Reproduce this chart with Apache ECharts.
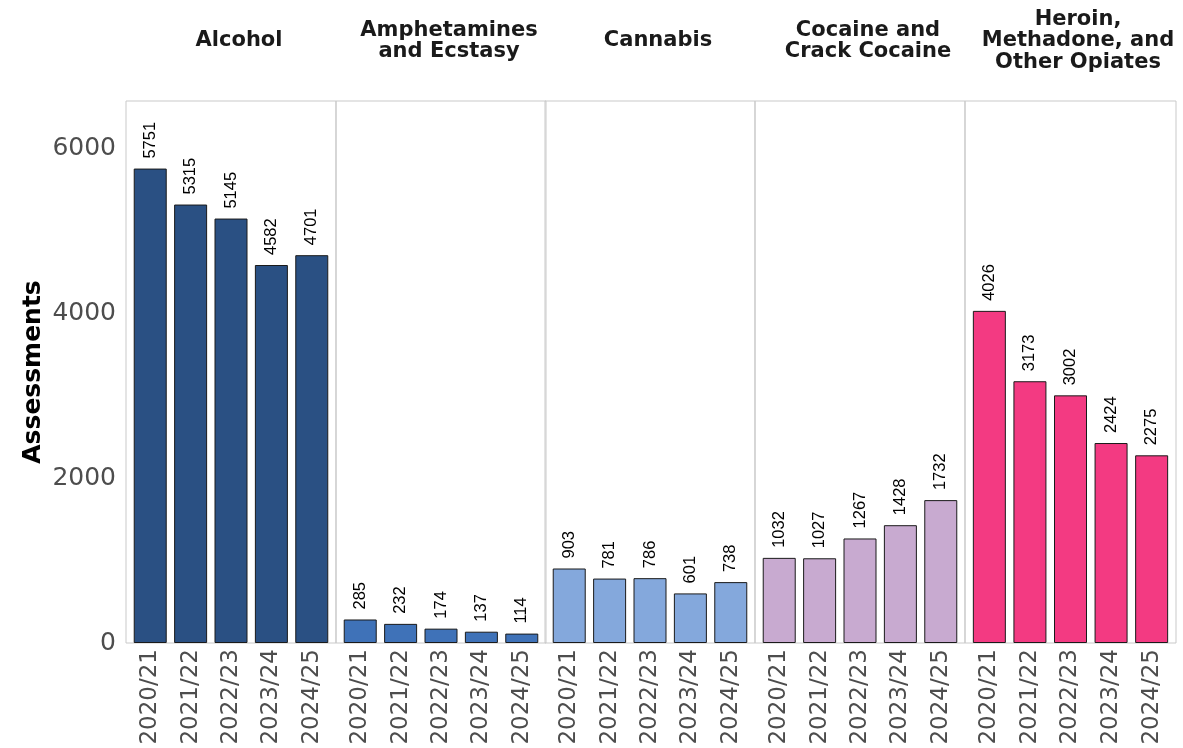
<!DOCTYPE html>
<html>
<head>
<meta charset="utf-8">
<script src="https://cdn.jsdelivr.net/npm/echarts@6/dist/echarts.min.js"></script>
<style>
  html, body { margin: 0; padding: 0; background: #ffffff; }
  #chart { width: 1183px; height: 748px; }
</style>
</head>
<body>
<div id="chart"></div>
<script>
// Substance groups (facet panels)
const substances = ['Alcohol', 'Amphetamines\nand Ecstasy', 'Cannabis', 'Cocaine and\nCrack Cocaine', 'Heroin,\nMethadone, and\nOther Opiates'];
const years = ['2020/21', '2021/22', '2022/23', '2023/24', '2024/25'];

// Assessments per year, one array per substance
const alcohol = [5751, 5315, 5145, 4582, 4701];
const amphetamines = [285, 232, 174, 137, 114];
const cannabis = [903, 781, 786, 601, 738];
const cocaine = [1032, 1027, 1267, 1428, 1732];
const opiates = [4026, 3173, 3002, 2424, 2275];

const seriesValues = [alcohol, amphetamines, cannabis, cocaine, opiates];
const colors = ['#2a5083', '#3f72b8', '#84a8dc', '#c8aad0', '#f33a82'];
const yTicks = [0, 2000, 4000, 6000];

const chart = echarts.init(document.getElementById('chart'));

const panelLefts = [126, 336, 545, 755, 965];
const panelWidth = 210;
const yMax = 6570;

const grids = [], xAxes = [], yAxes = [], series = [], graphics = [];

substances.forEach((name, i) => {
  grids.push({
    left: panelLefts[i],
    width: i === 4 ? 211 : panelWidth,
    top: 101,
    bottom: 105,
    show: true,
    borderColor: '#c9c9c9',
    borderWidth: 1,
    backgroundColor: 'transparent'
  });
  xAxes.push({
    type: 'value',
    gridIndex: i,
    min: 0.4,
    max: 5.6,
    axisLine: { show: false },
    axisTick: { show: false },
    splitLine: { show: false },
    axisLabel: {
      customValues: [1, 2, 3, 4, 5],
      formatter: v => years[Math.round(v) - 1],
      rotate: 90,
      margin: 6,
      fontSize: 23,
      color: '#4d4d4d',
      fontFamily: 'DejaVu Sans'
    }
  });
  yAxes.push({
    type: 'value',
    gridIndex: i,
    min: 0,
    max: yMax,
    interval: 2000,
    axisLine: { show: false },
    axisTick: { show: false },
    splitLine: { show: false },
    axisLabel: {
      show: i === 0,
      customValues: yTicks,
      formatter: v => String(v),
      margin: 10,
      fontSize: 25,
      color: '#4d4d4d',
      fontFamily: 'DejaVu Sans'
    },
    name: i === 0 ? 'Assessments' : '',
    nameLocation: 'middle',
    nameGap: 80,
    nameTextStyle: {
      fontSize: 25,
      fontWeight: 'bold',
      color: '#000000',
      fontFamily: 'DejaVu Sans'
    }
  });
  series.push({
    type: 'bar',
    xAxisIndex: i,
    yAxisIndex: i,
    barWidth: 33,
    data: seriesValues[i].map((v, k) => [k + 1, v]),
    itemStyle: { color: colors[i], borderColor: '#1a1a1a', borderWidth: 1 },
    label: {
      show: true,
      position: 'top',
      rotate: 90,
      align: 'left',
      verticalAlign: 'middle',
      distance: 10,
      fontSize: 16.5,
      color: '#000000',
      fontFamily: '"Liberation Sans", Arial, sans-serif'
    },
    silent: true
  });
  graphics.push({
    type: 'text',
    x: panelLefts[i] + panelWidth / 2 + 8,
    y: 41,
    style: {
      text: name,
      textAlign: 'center',
      textVerticalAlign: 'middle',
      font: 'bold 21px "DejaVu Sans"',
      lineHeight: 21.5,
      fill: '#1a1a1a'
    }
  });
});

chart.setOption({
  animation: false,
  backgroundColor: '#ffffff',
  grid: grids,
  xAxis: xAxes,
  yAxis: yAxes,
  series: series,
  graphic: graphics
});
</script>
</body>
</html>
